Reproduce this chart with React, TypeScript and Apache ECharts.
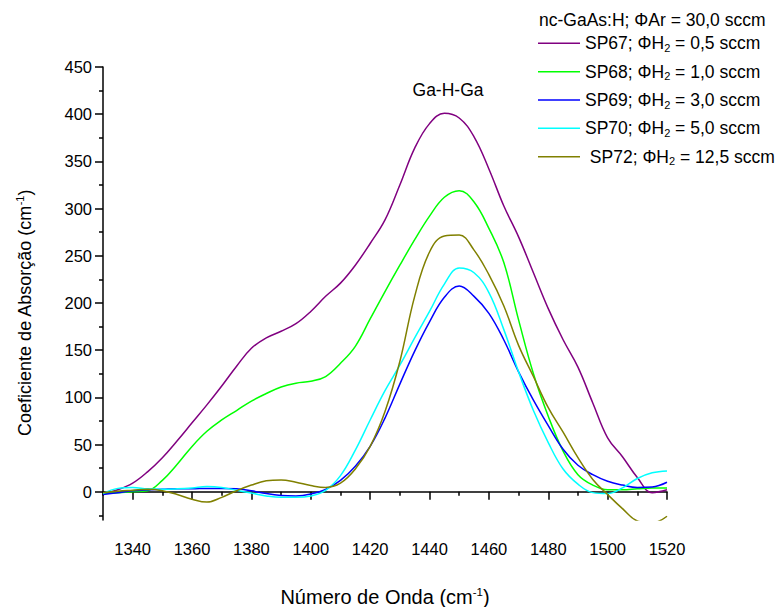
import React, { useEffect, useRef } from "react";
import * as echarts from "echarts";

const wavenumber = [
  1330, 1335, 1340, 1345, 1350, 1355, 1360, 1365, 1370, 1375, 1380, 1385, 1390,
  1395, 1400, 1405, 1410, 1415, 1420, 1425, 1430, 1435, 1440, 1445, 1450, 1455,
  1460, 1465, 1470, 1475, 1480, 1485, 1490, 1495, 1500, 1505, 1510, 1515, 1520,
];

const sp67 = [
  -2, 2, 9, 21, 36, 54, 73, 92, 112, 133, 152, 163, 170, 178, 191, 207, 221, 240,
  263, 288, 325, 364, 390, 401, 396, 376, 342, 303, 270, 232, 194, 161, 132, 94,
  57, 37, 15, -1, 2,
];
const sp68 = [
  -2, -1, 0, 1, 12, 29, 48, 64, 76, 86, 96, 104, 111, 115, 117, 122, 136, 154,
  183, 212, 240, 267, 292, 312, 319, 307, 279, 243, 182, 125, 80, 43, 18, 7, 2, 2,
  3, 4, 4,
];
const sp69 = [
  -3, -1, 1, 2, 2.5, 3, 3, 3.5, 3.5, 3, 1, -2, -4, -4.5, -2.5, 2.5, 12, 27, 48, 78,
  114, 149, 180, 206, 218, 207, 189, 161, 127, 97, 70, 45, 28, 18, 11, 7, 4.5, 5,
  10,
];
const sp70 = [
  -2, 3.5, 4.5, 3, 2.5, 3, 4, 5.5, 4.5, 1.5, -1.5, -4.5, -6, -6, -4.5, 1.5, 17,
  44, 76, 107, 134, 163, 191, 220, 237, 232, 211, 172, 127, 86, 52, 24, 8, -1, -2,
  4, 14, 20, 22,
];
const sp72 = [
  -1, 0.5, 1.5, 2.5, 1, -3, -8, -11, -6, 1, 7, 11.5, 12.5, 10, 6.5, 4.5, 9, 24,
  48, 85, 138, 207, 254, 271, 272, 256, 230, 197, 155, 122, 89, 63, 36, 13, -3,
  -18, -31, -33, -26,
];

const samples = ["SP67", "SP68", "SP69", "SP70", "SP72"];
const h2Flows = ["0,5", "1,0", "3,0", "5,0", "12,5"];
const seriesValues = [sp67, sp68, sp69, sp70, sp72];
const colors = ["#800080", "#00ff00", "#0000ff", "#00ffff", "#808000"];

const xMajorTicks = [1340, 1360, 1380, 1400, 1420, 1440, 1460, 1480, 1500, 1520];
const xMinorTicks = [1330, 1350, 1370, 1390, 1410, 1430, 1450, 1470, 1490, 1510];
const yMajorTicks = [0, 50, 100, 150, 200, 250, 300, 350, 400, 450];
const yMinorTicks = [-25, 25, 75, 125, 175, 225, 275, 325, 375, 425];

const FONT = "'Liberation Sans', Arial, Helvetica, sans-serif";

export default function App() {
  const ref = useRef<HTMLDivElement>(null);

  useEffect(() => {
    if (!ref.current) return;
    const chart = echarts.init(ref.current, null, { renderer: "svg" });

    const names = samples.map((s, i) => `${s}; ΦH2 = ${h2Flows[i]} sccm`);
    const legendCenters = [43.3, 71.7, 100, 128.3, 156.7];

    const legends = names.map((n, i) => ({
      data: [n],
      left: 538,
      top: legendCenters[i] - 10,
      padding: 0,
      orient: "horizontal",
      icon: "rect",
      itemWidth: 42,
      itemHeight: 1.5,
      selectedMode: false,
      formatter: () =>
        `${i === 4 ? " " : ""}${samples[i]}; ΦH{sub|2} = ${h2Flows[i]} sccm`,
      textStyle: {
        fontSize: 17.5,
        color: "#000",
        fontFamily: FONT,
        lineHeight: 20,
        rich: {
          sub: {
            fontSize: 11,
            lineHeight: 11,
            verticalAlign: "bottom",
            color: "#000",
            fontFamily: FONT,
          },
        },
      },
    }));

    const series = seriesValues.map((vals, i) => ({
      type: "line",
      name: names[i],
      xAxisIndex: 0,
      yAxisIndex: 0,
      data: wavenumber.map((x, j) => [x, vals[j]]),
      showSymbol: false,
      symbol: "none",
      smooth: 0.4,
      lineStyle: { color: colors[i], width: 1.5 },
      itemStyle: { color: colors[i] },
      clip: true,
    }));

    const axisLineStyle = { color: "#000", width: 1.5 };
    const plain = (v: number) => String(v);

    chart.setOption({
      animation: false,
      backgroundColor: "#ffffff",
      title: {
        text: "nc-GaAs:H; ΦAr = 30,0 sccm",
        left: 539,
        top: 11,
        padding: 0,
        textStyle: {
          fontSize: 17.5,
          fontWeight: "normal",
          color: "#000",
          fontFamily: FONT,
        },
      },
      legend: legends,
      grid: {
        left: 103,
        top: 67,
        width: 564,
        height: 453,
        containLabel: false,
        outerBoundsMode: "none",
      },
      xAxis: [
        {
          type: "value",
          min: 1330,
          max: 1520,
          position: "bottom",
          axisLine: { show: true, lineStyle: axisLineStyle },
          axisTick: { show: true, length: 8, customValues: xMajorTicks, lineStyle: axisLineStyle },
          axisLabel: {
            customValues: xMajorTicks,
            formatter: plain,
            margin: 20,
            fontSize: 16.5,
            color: "#000",
            fontFamily: FONT,
          },
          splitLine: { show: false },
          name: "Número de Onda (cm{sup|-1})",
          nameLocation: "middle",
          nameGap: 66,
          nameTextStyle: {
            fontSize: 20,
            color: "#000",
            fontFamily: FONT,
            lineHeight: 22,
            rich: {
              sup: { fontSize: 11.5, lineHeight: 11, verticalAlign: "top", color: "#000", fontFamily: FONT },
            },
          },
        },
        {
          type: "value",
          min: 1330,
          max: 1520,
          position: "bottom",
          axisLine: { show: false },
          axisTick: { show: true, length: 4, customValues: xMinorTicks, lineStyle: axisLineStyle },
          axisLabel: { show: false },
          splitLine: { show: false },
        },
      ],
      yAxis: [
        {
          type: "value",
          min: -30,
          max: 450,
          position: "left",
          axisLine: { show: true, lineStyle: axisLineStyle },
          axisTick: { show: true, length: 8, customValues: yMajorTicks, lineStyle: axisLineStyle },
          axisLabel: {
            customValues: yMajorTicks,
            formatter: plain,
            margin: 11,
            fontSize: 16.5,
            color: "#000",
            fontFamily: FONT,
          },
          splitLine: { show: false },
        },
        {
          type: "value",
          min: -30,
          max: 450,
          position: "left",
          axisLine: { show: false },
          axisTick: { show: true, length: 4, customValues: yMinorTicks, lineStyle: axisLineStyle },
          axisLabel: { show: false },
          splitLine: { show: false },
        },
      ],
      graphic: [
        {
          type: "text",
          x: 448,
          y: 90,
          style: {
            text: "Ga-H-Ga",
            fontSize: 17.5,
            fontFamily: FONT,
            fill: "#000",
            align: "center",
            verticalAlign: "middle",
          },
        },
        {
          type: "text",
          x: 25,
          y: 313,
          rotation: Math.PI / 2,
          style: {
            text: "Coeficiente de Absorção (cm{sup|-1})",
            fontSize: 18,
            fontFamily: FONT,
            fill: "#000",
            align: "center",
            verticalAlign: "middle",
            lineHeight: 22,
            rich: {
              sup: { fontSize: 11, lineHeight: 11, verticalAlign: "top", fill: "#000", fontFamily: FONT },
            },
          },
        },
      ],
      series,
    });

    return () => chart.dispose();
  }, []);

  return (
    <div
      ref={ref}
      style={{ position: "absolute", left: 0, top: 0, width: 781, height: 607, background: "#fff" }}
    />
  );
}
